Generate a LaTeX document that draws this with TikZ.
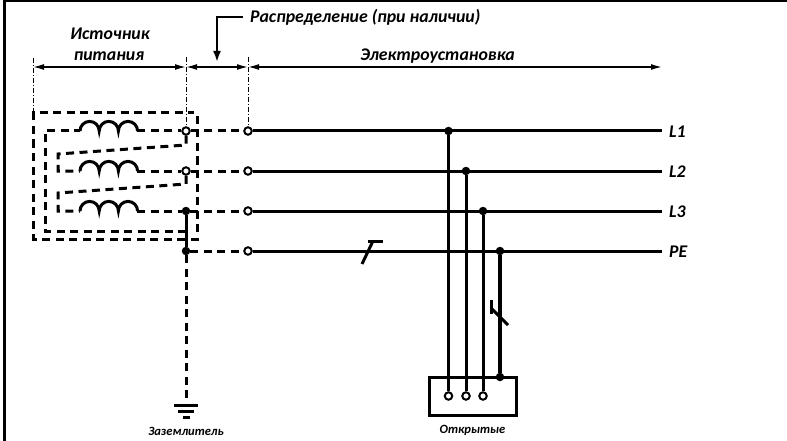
\documentclass[tikz,border=0pt]{standalone}
\usepackage{fontspec}
\setmainfont{Carlito}
\usetikzlibrary{
	arrows.meta,									% arrow tips
	calc,											% coordinate shifts
}
\tikzset{
	opendot/.style={circle,draw,fill=white,line width=2pt,inner sep=0pt,minimum size=7.5pt},
	fulldot/.style={circle,fill=black,inner sep=0pt,minimum size=8.5pt},
	wire/.style={line width=3pt},
	dashwire/.style={line width=3pt,dash pattern=on 8pt off 5.5pt},
	extline/.style={line width=1pt,dash pattern=on 5pt off 2pt on 1pt off 2pt},
	dimline/.style={line width=1.5pt,{Latex[length=11pt,width=6pt]}-{Latex[length=11pt,width=6pt]}},
	lbl/.style={font=\bfseries\itshape\fontsize{17.8}{17.8}\selectfont,inner sep=0pt},
	smalllbl/.style={font=\bfseries\itshape\fontsize{12.6}{12.6}\selectfont,inner sep=0pt},
	pics/coil/.style={code={
		\draw [wire] (0,0) arc[start angle=180,end angle=0,radius=9.6pt]
			arc[start angle=180,end angle=0,radius=9.6pt]
			arc[start angle=180,end angle=0,radius=9.6pt];
	}},
}
\begin{document}
\begin{tikzpicture}[x=1pt,y=-1pt]
		\useasboundingbox (0,0) rectangle (787,441);
		% frame
		\draw [line width=3pt] (4,441) -- (4,1) -- (787,1);
		% dimension lines
		\coordinate (srcTop) at (33,58);
		\coordinate (srcBot) at (33,113);
		\coordinate (midTop) at (186,57);
		\coordinate (midBot) at (186,127);
		\coordinate (netTop) at (248,57);
		\coordinate (netBot) at (248,127);
		\coordinate (dimSrc) at (33,67);
		\coordinate (dimMid) at (186,67);
		\coordinate (dimNet) at (248,67);
		\coordinate (dimEnd) at (662,67);
		\draw [extline] (srcTop) -- (srcBot);
		\draw [extline] (midTop) -- (midBot);
		\draw [extline] (netTop) -- (netBot);
		\draw [dimline] (dimSrc) -- (dimMid);
		\draw [dimline] (dimMid) -- (dimNet);
		\draw [dimline] (dimNet) -- (dimEnd);
		\node [lbl] (source) at (110,34) {Источник};
		\node [lbl] (sourceb) at (109,56) {питания};
		\node [lbl] (install) at (437.5,56) {Электроустановка};
		\node [lbl,anchor=west] (distrib) at (250,17) {Распределение (при наличии)};
		\coordinate (distribStart) at (243,17);
		\coordinate (distribArrow) at (217,62);
		\draw [line width=2pt,-{Latex[length=11pt,width=8pt]}] (distribStart) -- (217,17) -- (distribArrow);
		% source enclosure
		\draw [dashwire] (197,116) -- (197,239) -- (33.5,239) -- (33.5,113) -- (194,113);
		\draw [dashwire] (186,231) -- (45,231) -- (45,131) -- (80,131);
		% windings
		\pic at (80,131) {coil};
		\pic at (80,171) {coil};
		\pic at (80,211) {coil};
		\node [opendot] (a1) at (186,131) {};
		\node [opendot] (a2) at (186,171) {};
		\node [fulldot] (a3) at (186,211) {};
		\node [fulldot] (a4) at (186,251) {};
		\node [opendot] (b1) at (248,131) {};
		\node [opendot] (b2) at (248,171) {};
		\node [opendot] (b3) at (248,211) {};
		\node [opendot] (b4) at (248,251) {};
		\coordinate (c1) at (662,131);
		\coordinate (c2) at (662,171);
		\coordinate (c3) at (662,211);
		\coordinate (c4) at (662,251);
		\draw [dashwire] (137,131) -- (a1);
		\draw [dashwire] (a1) -- (186,145) -- (58,154) -- (58,171) -- (80,171);
		\draw [dashwire] (137,171) -- (a2);
		\draw [dashwire] (a2) -- (186,184) -- (58,193) -- (58,211) -- (80,211);
		\draw [dashwire] (137,211) -- (a3);
		\draw [wire] (a3) -- (a4);
		\foreach \i in {1,2,3,4}{
			\draw [dashwire] (a\i) -- (b\i);
			\draw [wire] (b\i) -- (c\i);
		}
		\node [lbl,anchor=west] (L1) at (669,132) {L1};
		\node [lbl,anchor=west] (L2) at (669,172) {L2};
		\node [lbl,anchor=west] (L3) at (669,212) {L3};
		\node [lbl,anchor=west] (PE) at (669,252) {PE};
		% earth
		\coordinate (gnd) at (186,405.5);
		\draw [dashwire] (a4) -- (gnd);
		\draw [wire] (174,405.5) -- (198,405.5);
		\draw [wire] (178,411) -- (194,411);
		\draw [wire] (183,417) -- (190,417);
		\node [smalllbl] (earth) at (186,431) {Заземлитель};
		% exposed parts
		\draw [wire] (429,377) rectangle (516,415);
		\node [fulldot] (d1) at (448.5,131) {};
		\node [fulldot] (d2) at (466,171) {};
		\node [fulldot] (d3) at (483,211) {};
		\node [fulldot] (d4) at (500,251) {};
		\node [opendot] (e1) at (448.5,396) {};
		\node [opendot] (e2) at (466,396) {};
		\node [opendot] (e3) at (483,396) {};
		\node [fulldot] (e4) at (500,377) {};
		\draw [wire] (d1) -- (e1);
		\draw [wire] (d2) -- (e2);
		\draw [wire] (d3) -- (e3);
		\draw [line width=4pt] (d4) -- (e4);
		\node [smalllbl] (exposed) at (472.5,430) {Открытые};
		% conductor marks
		\draw [wire] (362,264) -- (373,241);
		\draw [wire] (368,241) -- (383,241);
		\draw [wire] (508,325) -- (491,308);
		\draw [wire] (491,300) -- (491,314);
	\end{tikzpicture}
\end{document}
